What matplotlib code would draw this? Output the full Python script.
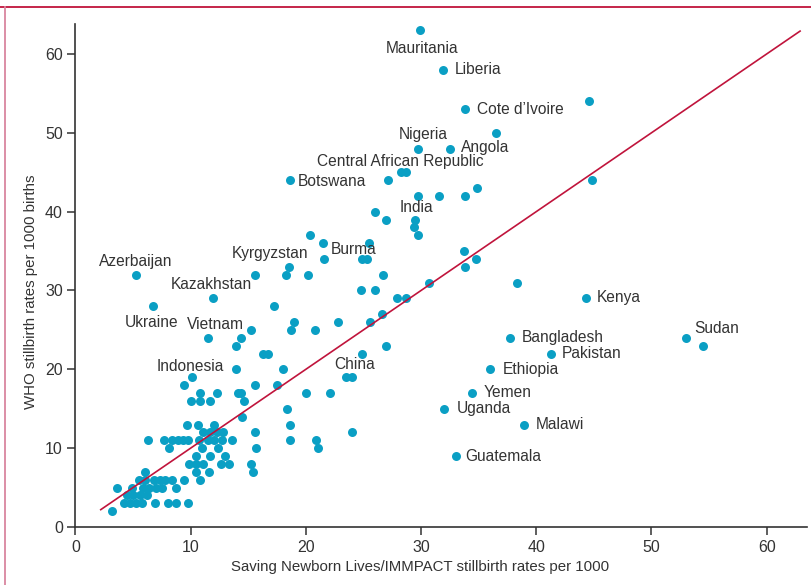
import matplotlib
matplotlib.use("Agg")
import matplotlib.pyplot as plt
from matplotlib.lines import Line2D

plt.rcParams['font.family'] = ['Liberation Sans Narrow', 'Liberation Sans', 'DejaVu Sans']

# ---- data ----
label_names = ["Mauritania", "Liberia", "Cote d\u2019Ivoire", "Nigeria", "Angola",
               "Central African Republic", "Botswana", "India", "Kyrgyzstan", "Burma",
               "Azerbaijan", "Kazakhstan", "Ukraine", "Vietnam", "Indonesia", "China",
               "Kenya", "Sudan", "Bangladesh", "Pakistan", "Ethiopia", "Yemen",
               "Uganda", "Malawi", "Guatemala"]
label_x = [29.9, 31.9, 33.8, 29.7, 32.5, 28.3, 18.6, 29.5, 15.6, 21.6,
           5.3, 11.9, 6.7, 11.5, 10.1, 24.0,
           44.3, 53.0, 37.7, 41.3, 36.0, 34.4, 32.0, 38.9, 33.0]
label_y = [63, 58, 53, 48, 48, 45, 44, 39, 32, 34,
           32, 29, 28, 24, 19, 19,
           29, 24, 24, 22, 20, 17, 15, 13, 9]

other_x = [44.6, 36.5, 28.7, 27.1, 44.8, 29.7, 31.6, 33.8, 34.9, 26.0, 27.0, 29.4, 29.7,
           20.4, 21.5, 25.5, 33.7, 24.9, 25.3, 34.8, 18.5, 33.8, 18.3, 20.2, 26.7,
           30.7, 38.3, 24.8, 26.0, 27.9, 28.7, 17.2, 26.6, 19.0, 22.8, 25.6,
           15.2, 18.7, 20.8, 14.4, 13.9, 27.0, 54.5, 16.3, 16.7, 24.9,
           13.9, 18.0, 23.5, 9.4, 15.6, 17.5,
           10.8, 12.3, 14.1, 14.4, 20.0, 22.1,
           10.0, 10.8, 11.7, 14.6, 18.4, 14.5,
           9.7, 10.6, 12.0, 18.6,
           11.1, 11.7, 12.3, 12.8, 15.6, 24.0,
           6.3, 7.7, 8.4, 8.9, 9.3, 9.8, 10.7, 11.5, 12.0, 12.7, 13.6, 18.6, 20.9,
           8.1, 11.0, 12.4, 15.7, 21.1,
           10.5, 11.7, 13.0,
           9.9, 10.5, 11.1, 12.6, 13.3, 15.2,
           6.0, 10.5, 11.6, 15.4,
           5.5, 6.0, 6.8, 7.3, 7.8, 8.4, 9.4, 10.8,
           3.6, 4.9, 5.9, 6.4, 7.0, 7.5, 8.7,
           4.5, 5.0, 5.6, 6.2,
           4.2, 4.7, 5.3, 5.8, 6.9, 8.0, 8.7, 9.8,
           3.2]
other_y = [54, 50, 45, 44, 44, 42, 42, 42, 43, 40, 39, 38, 37,
           37, 36, 36, 35, 34, 34, 34, 33, 33, 32, 32, 32,
           31, 31, 30, 30, 29, 29, 28, 27, 26, 26, 26,
           25, 25, 25, 24, 23, 23, 23, 22, 22, 22,
           20, 20, 19, 18, 18, 18,
           17, 17, 17, 17, 17, 17,
           16, 16, 16, 16, 15, 14,
           13, 13, 13, 13,
           12, 12, 12, 12, 12, 12,
           11, 11, 11, 11, 11, 11, 11, 11, 11, 11, 11, 11, 11,
           10, 10, 10, 10, 10,
           9, 9, 9,
           8, 8, 8, 8, 8, 8,
           7, 7, 7, 7,
           6, 6, 6, 6, 6, 6, 6, 6,
           5, 5, 5, 5, 5, 5, 5,
           4, 4, 4, 4,
           3, 3, 3, 3, 3, 3, 3, 3,
           2]

identity_range = [2.2, 62.9]
x_ticks = [0, 10, 20, 30, 40, 50, 60]
y_ticks = [0, 10, 20, 30, 40, 50, 60]
x_label = "Saving Newborn Lives/IMMPACT stillbirth rates per 1000"
y_label = "WHO stillbirth rates per 1000 births"

# label offsets in pixels (dx, dy, ha)
label_offsets = {
    "Mauritania": (2, -18, "center"), "Liberia": (12, 0, "left"),
    "Cote d\u2019Ivoire": (12, 0, "left"), "Nigeria": (6, 14, "center"),
    "Angola": (11, 1, "left"), "Central African Republic": (-1, 11, "center"),
    "Botswana": (8, -1, "left"), "India": (1, 12, "center"),
    "Kyrgyzstan": (15, 21, "center"), "Burma": (6, 9, "left"),
    "Azerbaijan": (-1, 13, "center"), "Kazakhstan": (-1, 14, "center"),
    "Ukraine": (-1, -16, "center"), "Vietnam": (8, 13, "center"),
    "Indonesia": (-1, 11, "center"), "China": (3, 13, "center"),
    "Kenya": (11, 1, "left"), "Sudan": (8, 9, "left"),
    "Bangladesh": (12, 0, "left"), "Pakistan": (11, 0, "left"),
    "Ethiopia": (13, 0, "left"), "Yemen": (12, 0, "left"),
    "Uganda": (13, 0, "left"), "Malawi": (12, 0, "left"),
    "Guatemala": (10, 0, "left"),
}

# ---- style ----
W, H = 811, 585
dot_color = "#0a9fc4"
line_color = "#c0143c"
text_color = "#333333"

fig = plt.figure(figsize=(W / 100, H / 100), dpi=100)
ax = fig.add_axes([75.4 / W, 58 / H, (807 - 75.4) / W, (527 - 24) / H])

ax.scatter(other_x, other_y, s=42, color=dot_color, linewidths=0, zorder=2)
ax.scatter(label_x, label_y, s=42, color=dot_color, linewidths=0, zorder=2)
ax.plot(identity_range, identity_range, color=line_color, lw=1.2, zorder=3)

for name, x, y in zip(label_names, label_x, label_y):
    dx, dy, ha = label_offsets[name]
    ax.annotate(name, (x, y), xytext=(dx, dy), textcoords="offset pixels",
                ha=ha, va="center", fontsize=11.2, color=text_color, zorder=4)

ax.set_xlim(0, 63.5)
ax.set_ylim(0, 63.8)
ax.set_xticks(x_ticks)
ax.set_yticks(y_ticks)
for s in ["top", "right"]:
    ax.spines[s].set_visible(False)
for s in ["left", "bottom"]:
    ax.spines[s].set_color(text_color)
    ax.spines[s].set_linewidth(1.2)
ax.tick_params(axis="both", direction="out", length=6, width=1.1, color=text_color,
               labelcolor=text_color, labelsize=11.5, pad=3)
ax.set_xlabel(x_label, fontsize=10.8, color=text_color)
ax.set_ylabel(y_label, fontsize=10.8, color=text_color)
ax.xaxis.set_label_coords((420 - 75.4) / 731.6, (527 - 560) / 503)
ax.yaxis.set_label_coords((38 - 75.4) / 731.6, (527 - 292) / 503)

# frame lines
fig.add_artist(Line2D([0, 1], [1 - 7 / H, 1 - 7 / H], color=line_color, lw=1.3))
fig.add_artist(Line2D([5 / W, 5 / W], [0, 1 - 7 / H], color="#d9869f", lw=1.3))

fig.savefig("out.png", dpi=100)
